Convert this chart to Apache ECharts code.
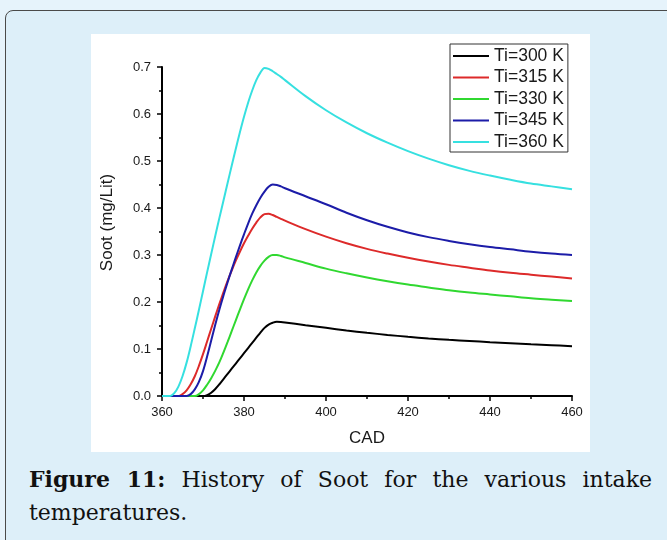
<!DOCTYPE html>
<html>
<head>
<meta charset="utf-8">
<script src="https://cdn.jsdelivr.net/npm/echarts@6/dist/echarts.min.js"></script>
<style>
  html, body { margin: 0; padding: 0; }
  body { width: 667px; height: 540px; background: #e6f3fb; position: relative; overflow: hidden; }
  #frame {
    position: absolute; left: 5px; top: 10px; width: 700px; height: 560px;
    background: #ddeff9; border: 1px solid #4a4a4a; border-radius: 8px; box-sizing: border-box;
  }
  #panel { position: absolute; left: 91px; top: 34px; width: 499px; height: 418px; background: #ffffff; }
  #caption {
    position: absolute; left: 29px; top: 463px; width: 623px;
    font-family: "DejaVu Serif", serif; font-size: 22px; line-height: 33px; color: #111;
    text-align: justify; text-align-last: left;
  }
  #caption b { font-weight: bold; }
</style>
</head>
<body>
<div id="frame"></div>
<div id="panel"></div>
<div id="caption"><b>Figure 11:</b> History of Soot for the various intake temperatures.</div>
<script>
// Crank angle (deg) sample points
const cad = [360,361,362,363,364,365,366,367,368,369,370,371,372,373,374,375,376,377,378,379,380,
             381,382,383,384,385,386,387,388,389,390,395,400,405,410,415,420,425,430,435,440,445,450,455,460];

// Soot concentration (mg/Lit) for each intake temperature
const soot300 = [0,0,0,0,0,0,0,0,0,0,0,0.002,0.007,0.015,0.025,0.036,0.047,0.058,0.069,0.08,0.091,
                 0.102,0.113,0.124,0.135,0.145,0.152,0.156,0.158,0.1575,0.1565,
                 0.1505,0.145,0.1395,0.1345,0.13,0.126,0.1225,0.1195,0.117,0.1145,0.1122,0.11,0.108,0.106];
const soot315 = [0,0,0,0,0,0.004,0.012,0.025,0.042,0.064,0.089,0.116,0.143,0.17,0.196,0.221,0.245,0.267,0.288,0.307,0.325,
                 0.341,0.356,0.369,0.38,0.387,0.388,0.385,0.381,0.377,0.373,
                 0.355,0.339,0.325,0.313,0.303,0.294,0.286,0.279,0.273,0.267,0.262,0.258,0.254,0.25];
const soot330 = [0,0,0,0,0,0,0,0,0,0.004,0.012,0.024,0.038,0.054,0.072,0.093,0.115,0.138,0.161,0.184,0.206,
                 0.227,0.246,0.263,0.277,0.288,0.296,0.3,0.3,0.298,0.295,
                 0.283,0.271,0.261,0.252,0.244,0.237,0.231,0.225,0.22,0.216,0.212,0.208,0.205,0.202];
const soot345 = [0,0,0,0,0,0,0,0.004,0.014,0.03,0.053,0.084,0.118,0.152,0.184,0.214,0.242,0.269,0.295,0.32,0.344,
                 0.367,0.388,0.406,0.422,0.435,0.445,0.45,0.449,0.446,0.442,
                 0.425,0.408,0.39,0.374,0.36,0.348,0.338,0.33,0.323,0.317,0.312,0.307,0.303,0.3];
const soot360 = [0,0,0,0.006,0.02,0.042,0.071,0.106,0.144,0.183,0.223,0.263,0.302,0.341,0.379,0.416,0.453,0.49,0.526,0.561,0.594,
                 0.624,0.65,0.672,0.688,0.698,0.696,0.691,0.685,0.679,0.672,
                 0.638,0.608,0.582,0.559,0.539,0.521,0.505,0.491,0.479,0.469,0.46,0.452,0.446,0.44];

const seriesNames = ['Ti=300 K', 'Ti=315 K', 'Ti=330 K', 'Ti=345 K', 'Ti=360 K'];
const seriesValues = [soot300, soot315, soot330, soot345, soot360];
const seriesColors = ['#000000', '#dd2a2a', '#30d830', '#1c1ca8', '#36e0e0'];

const xTicks = { min: 360, max: 460, interval: 20 };
const yTicks = { min: 0, max: 0.7, interval: 0.1 };

const chart = echarts.init(document.getElementById('panel'), null, { renderer: 'canvas' });

const axisFont = { fontFamily: 'Liberation Sans, Arial, sans-serif', color: '#1a1a1a' };

chart.setOption({
  animation: false,
  backgroundColor: '#ffffff',
  grid: { left: 70, right: 18, top: 33, bottom: 53.5, containLabel: false },
  legend: {
    orient: 'vertical',
    left: 359, top: 10,
    icon: 'rect',
    itemWidth: 36, itemHeight: 2, itemGap: 3.5,
    padding: [3, 4, 1, 3],
    borderColor: '#333', borderWidth: 1,
    textStyle: Object.assign({ fontSize: 17.5, lineHeight: 18 }, axisFont),
    data: seriesNames
  },
  xAxis: {
    type: 'value', min: xTicks.min, max: xTicks.max, interval: xTicks.interval,
    name: 'CAD', nameLocation: 'middle', nameGap: 34,
    nameTextStyle: Object.assign({ fontSize: 17 }, axisFont),
    axisLine: { lineStyle: { color: '#000', width: 2 } },
    axisTick: { inside: false, length: 5, lineStyle: { color: '#000', width: 1.5 } },
    minorTick: { show: true, splitNumber: 2, length: 3, lineStyle: { color: '#000', width: 1.5 } },
    axisLabel: Object.assign({ fontSize: 13, margin: 10 }, axisFont),
    splitLine: { show: false }
  },
  yAxis: {
    type: 'value', min: yTicks.min, max: yTicks.max, interval: yTicks.interval,
    name: 'Soot (mg/Lit)', nameLocation: 'middle', nameGap: 46,
    nameTextStyle: Object.assign({ fontSize: 17, padding: [0, 0, 0, 18] }, axisFont),
    axisLine: { lineStyle: { color: '#000', width: 2 } },
    axisTick: { inside: false, length: 5, lineStyle: { color: '#000', width: 1.5 } },
    minorTick: { show: true, splitNumber: 2, length: 3, lineStyle: { color: '#000', width: 1.5 } },
    axisLabel: Object.assign({ fontSize: 13, margin: 11, formatter: v => v.toFixed(1) }, axisFont),
    splitLine: { show: false }
  },
  series: seriesNames.map((name, k) => ({
    name: name,
    type: 'line',
    showSymbol: false,
    smooth: 0.35,
    clip: true,
    color: seriesColors[k],
    lineStyle: { width: 2, color: seriesColors[k] },
    data: cad.map((x, i) => [x, seriesValues[k][i]])
  }))
});
</script>
</body>
</html>
